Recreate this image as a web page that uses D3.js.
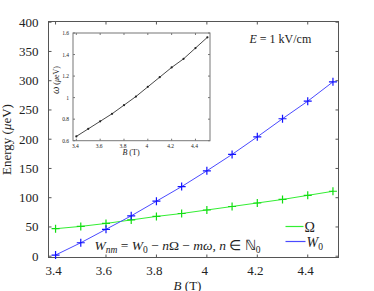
<!DOCTYPE html>
<html>
<head>
<meta charset="utf-8">
<script src="https://cdn.jsdelivr.net/npm/d3@7"></script>
<style>
  body { margin: 0; background: #fff; }
  text { font-family: "Times New Roman", "Liberation Serif", serif; }
</style>
</head>
<body>
<div id="chart"></div>
<script>
// magnetic field values (T)
const fieldB = [3.4, 3.5, 3.6, 3.7, 3.8, 3.9, 4.0, 4.1, 4.2, 4.3, 4.4, 4.5];
// Omega and W0 in micro eV
const omegaBig = [47, 51, 56, 62, 68, 73, 79, 85, 91, 97, 104, 111];
const w0 = [2, 23, 46, 69, 94, 119, 146, 174, 204, 235, 265, 298];
// inset: omega (small) in micro eV
const omegaSmall = [0.64, 0.71, 0.78, 0.85, 0.93, 1.01, 1.10, 1.19, 1.28, 1.36, 1.46, 1.56];

const xTicks = [3.4, 3.6, 3.8, 4.0, 4.2, 4.4];
const yTicks = [0, 50, 100, 150, 200, 250, 300, 350, 400];
const insetYTicks = [0.6, 0.8, 1.0, 1.2, 1.4, 1.6];

const W = 374, H = 291;
const margin = { top: 21.5, right: 35.5, bottom: 33.5, left: 48.5 };
const width = W - margin.left - margin.right,
  height = H - margin.top - margin.bottom;

const svg = d3.select('#chart').append('svg')
  .attr('width', W).attr('height', H)
  .attr('fill', '#222');

const g = svg.append('g')
  .attr('transform', `translate(${margin.left}, ${margin.top})`);

const x = d3.scaleLinear().domain([3.372, 4.522]).range([0, width]);
const y = d3.scaleLinear().domain([-2.2, 401.2]).range([height, 0]);

const frameColor = '#555';
const tickLen = 3;

// frame
g.append('rect')
  .attr('width', width).attr('height', height)
  .attr('fill', 'none').attr('stroke', frameColor).attr('stroke-width', 1);

// ticks on all four sides, pointing inward
xTicks.forEach(function (t) {
  g.append('line').attr('x1', x(t)).attr('x2', x(t))
    .attr('y1', height).attr('y2', height - tickLen).attr('stroke', frameColor);
  g.append('line').attr('x1', x(t)).attr('x2', x(t))
    .attr('y1', 0).attr('y2', tickLen).attr('stroke', frameColor);
  g.append('text')
    .attr('x', x(t) - 2).attr('y', height + 17)
    .attr('text-anchor', 'middle').attr('font-size', 13)
    .text(d3.format('~g')(t));
});
yTicks.forEach(function (t) {
  g.append('line').attr('x1', 0).attr('x2', tickLen)
    .attr('y1', y(t)).attr('y2', y(t)).attr('stroke', frameColor);
  g.append('line').attr('x1', width).attr('x2', width - tickLen)
    .attr('y1', y(t)).attr('y2', y(t)).attr('stroke', frameColor);
  g.append('text')
    .attr('x', -10).attr('y', y(t) + 4.5)
    .attr('text-anchor', 'end').attr('font-size', 13)
    .text(t);
});

// axis labels
const xl = g.append('text')
  .attr('x', width / 2 - 6).attr('y', height + 32)
  .attr('text-anchor', 'middle').attr('font-size', 13);
xl.append('tspan').attr('font-style', 'italic').text('B');
xl.append('tspan').text(' (T)');

const yl = g.append('text')
  .attr('transform', `translate(${-38}, ${height / 2}) rotate(-90)`)
  .attr('text-anchor', 'middle').attr('font-size', 13);
yl.append('tspan').text('Energy (');
yl.append('tspan').attr('font-style', 'italic').text('μ');
yl.append('tspan').text('eV)');

// series
const series = [
  { name: 'omega', values: omegaBig, line: '#33ee33', mark: '#11dd11' },
  { name: 'w0', values: w0, line: '#4a4aff', mark: '#1111ff' },
];

const lineGen = d3.line()
  .x(function (d) { return x(d[0]); })
  .y(function (d) { return y(d[1]); });

series.forEach(function (s) {
  const pts = fieldB.map(function (b, i) { return [b, s.values[i]]; });
  g.append('path')
    .attr('d', lineGen(pts))
    .attr('fill', 'none').attr('stroke', s.line).attr('stroke-width', 1);
  const m = g.append('g');
  pts.forEach(function (p) {
    m.append('path')
      .attr('d', `M${x(p[0]) - 4},${y(p[1])}h8M${x(p[0])},${y(p[1]) - 4}v8`)
      .attr('stroke', s.mark).attr('stroke-width', 1.2);
  });
});

// E label
const el = g.append('text')
  .attr('x', 201).attr('y', 21)
  .attr('font-size', 12);
el.append('tspan').attr('font-style', 'italic').text('E');
el.append('tspan').text(' = 1 kV/cm');

// formula
const fm = g.append('text')
  .attr('x', 46).attr('y', 228)
  .attr('font-size', 13.5);
fm.append('tspan').attr('font-style', 'italic').text('W');
fm.append('tspan').attr('font-style', 'italic').attr('font-size', 9.5).attr('dy', 3).text('nm');
fm.append('tspan').attr('dy', -3).text(' = ');
fm.append('tspan').attr('font-style', 'italic').text('W');
fm.append('tspan').attr('font-size', 9.5).attr('dy', 3).text('0');
fm.append('tspan').attr('dy', -3).text(' − ');
fm.append('tspan').attr('font-style', 'italic').text('n');
fm.append('tspan').text('Ω − ');
fm.append('tspan').attr('font-style', 'italic').text('mω');
fm.append('tspan').text(',  ');
fm.append('tspan').attr('font-style', 'italic').text('n');
fm.append('tspan').text(' ∈ ℕ');
fm.append('tspan').attr('font-size', 9.5).attr('dy', 3).text('0');

// legend
const legend = g.append('g').attr('transform', 'translate(237, 205)');
legend.append('line').attr('x1', 0).attr('x2', 18).attr('y1', 0).attr('y2', 0)
  .attr('stroke', series[0].line).attr('stroke-width', 1.2);
legend.append('text').attr('x', 19).attr('y', 5).attr('font-size', 14).text('Ω');
legend.append('line').attr('x1', 0).attr('x2', 20).attr('y1', 15).attr('y2', 15)
  .attr('stroke', series[1].line).attr('stroke-width', 1.2);
const lw = legend.append('text').attr('x', 21).attr('y', 20).attr('font-size', 14);
lw.append('tspan').attr('font-style', 'italic').text('W');
lw.append('tspan').attr('font-size', 9.5).attr('dy', 3).text('0');

// inset
const inset = { left: 73, top: 33, right: 210, bottom: 140.7 };
const ig = svg.append('g');
const ix = d3.scaleLinear().domain([3.372, 4.522]).range([inset.left, inset.right]);
const iy = d3.scaleLinear().domain([0.6, 1.6]).range([inset.bottom, inset.top]);

ig.append('rect')
  .attr('x', inset.left).attr('y', inset.top)
  .attr('width', inset.right - inset.left).attr('height', inset.bottom - inset.top)
  .attr('fill', '#fff').attr('stroke', '#777').attr('stroke-width', 1);

xTicks.forEach(function (t) {
  ig.append('line').attr('x1', ix(t)).attr('x2', ix(t))
    .attr('y1', inset.bottom).attr('y2', inset.bottom - 2).attr('stroke', '#777');
  ig.append('line').attr('x1', ix(t)).attr('x2', ix(t))
    .attr('y1', inset.top).attr('y2', inset.top + 2).attr('stroke', '#777');
  ig.append('text')
    .attr('x', ix(t) - 1).attr('y', inset.bottom + 7)
    .attr('text-anchor', 'middle').attr('font-size', 5.5)
    .text(d3.format('~g')(t));
});
insetYTicks.forEach(function (t) {
  ig.append('line').attr('x1', inset.left).attr('x2', inset.left + 2)
    .attr('y1', iy(t)).attr('y2', iy(t)).attr('stroke', '#777');
  ig.append('line').attr('x1', inset.right).attr('x2', inset.right - 2)
    .attr('y1', iy(t)).attr('y2', iy(t)).attr('stroke', '#777');
  ig.append('text')
    .attr('x', inset.left - 4).attr('y', iy(t) + 2)
    .attr('text-anchor', 'end').attr('font-size', 5.5)
    .text(d3.format('~g')(t));
});

const ixl = ig.append('text')
  .attr('x', 131).attr('y', 155)
  .attr('text-anchor', 'middle').attr('font-size', 8);
ixl.append('tspan').attr('font-style', 'italic').text('B');
ixl.append('tspan').text(' (T)');

const iyl = ig.append('text')
  .attr('transform', `translate(59, 80) rotate(-90)`)
  .attr('text-anchor', 'middle').attr('font-size', 8);
iyl.append('tspan').attr('font-style', 'italic').attr('font-size', 10.5).text('ω');
iyl.append('tspan').text(' (');
iyl.append('tspan').attr('font-style', 'italic').text('μ');
iyl.append('tspan').text('eV)');

const ipts = fieldB.map(function (b, i) { return [b, omegaSmall[i]]; });
ig.append('path')
  .attr('d', d3.line().x(function (d) { return ix(d[0]); }).y(function (d) { return iy(d[1]); })(ipts))
  .attr('fill', 'none').attr('stroke', '#333').attr('stroke-width', 0.9);
ig.selectAll('.idot').data(ipts).join('circle')
  .attr('class', 'idot')
  .attr('cx', function (d) { return ix(d[0]); })
  .attr('cy', function (d) { return iy(d[1]); })
  .attr('r', 1.1).attr('fill', '#222');
</script>
</body>
</html>
